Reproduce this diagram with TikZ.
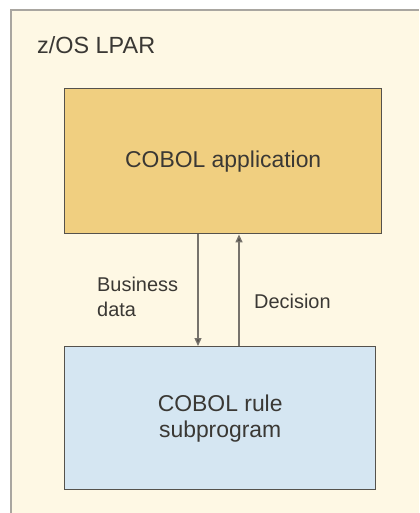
\documentclass[tikz,border=0pt]{standalone}
\usepackage{fontspec}
\setmainfont{Liberation Sans}
\usetikzlibrary{arrows.meta,positioning}
\definecolor{lparfill}{HTML}{FEF8E4}
\definecolor{lparline}{HTML}{A9A6A0}
\definecolor{appfill}{HTML}{F0CF80}
\definecolor{rulefill}{HTML}{D5E6F2}
\definecolor{boxline}{HTML}{55524C}
\definecolor{txt}{HTML}{3A3834}
\definecolor{flowline}{HTML}{77736C}
\tikzset{
  progbox/.style={draw=boxline, line width=1.4bp, inner sep=0pt, anchor=north west,
    text=txt, font=\fontsize{23}{26}\selectfont, align=center},
  flowlabel/.style={text=txt, font=\fontsize{20}{25}\selectfont, align=left, inner sep=0pt},
  flow/.style={draw=flowline, line width=1.3bp, -{Triangle[length=8bp,width=7bp,fill=boxline]}}
}
\begin{document}
\begin{tikzpicture}[x=1bp,y=-1bp]
  \useasboundingbox (0,0) rectangle (419,513);
  % LPAR area
  \fill[lparfill] (11,10) rectangle (419,513);
  \draw[lparline, line width=2.5bp] (11,513) -- (11,10) -- (419,10);
  \node[text=txt, font=\fontsize{23.5}{28}\selectfont, anchor=west, inner sep=0pt] (lpar) at (37,45) {z/OS LPAR};
  % programs
  \node[progbox, fill=appfill, minimum width=317bp, minimum height=145bp] (app) at (64,88) {COBOL application};
  \node[progbox, fill=rulefill, minimum width=311bp, minimum height=143bp] (rule) at (64,346) {COBOL rule\\subprogram};
  % data flow
  \coordinate (dtop) at (198,0);
  \coordinate (utop) at (239,0);
  \draw[flow] (app.south -| dtop) -- (rule.north -| dtop);
  \draw[flow] (rule.north -| utop) -- (app.south -| utop);
  \node[flowlabel, anchor=west] (bdata) at (97,297) {Business\\data};
  \node[flowlabel, anchor=west] (dec) at (254,301) {Decision};
\end{tikzpicture}
\end{document}
